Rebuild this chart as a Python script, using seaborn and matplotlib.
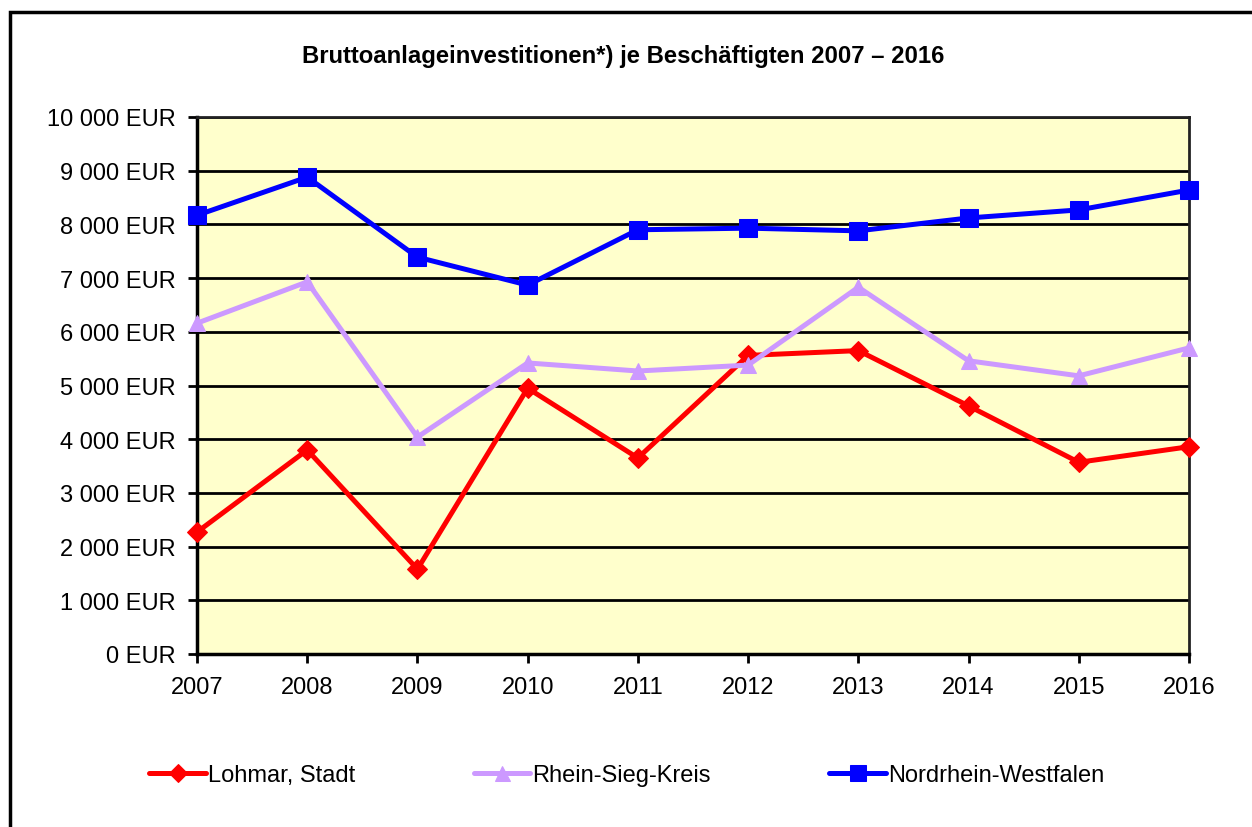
import matplotlib
matplotlib.use("Agg")
import matplotlib.pyplot as plt
import seaborn as sns
import pandas as pd
from matplotlib.patches import Rectangle
from matplotlib.ticker import FixedLocator, FuncFormatter

years = [2007, 2008, 2009, 2010, 2011, 2012, 2013, 2014, 2015, 2016]
lohmar = [2270, 3800, 1580, 4950, 3650, 5560, 5650, 4620, 3570, 3860]
rhein_sieg = [6160, 6930, 4040, 5420, 5270, 5380, 6830, 5460, 5180, 5700]
nrw = [8170, 8880, 7390, 6870, 7900, 7930, 7880, 8120, 8270, 8640]
series_names = ["Lohmar, Stadt", "Rhein-Sieg-Kreis", "Nordrhein-Westfalen"]
title = "Bruttoanlageinvestitionen*) je Beschäftigten 2007 – 2016"
y_ticks = [0, 1000, 2000, 3000, 4000, 5000, 6000, 7000, 8000, 9000, 10000]

sns.set_theme(style="white")
plt.rcParams["font.family"] = ["Liberation Sans", "DejaVu Sans"]
plt.rcParams["text.color"] = "black"

df = pd.DataFrame({
    "Jahr": years * 3,
    "Wert": lohmar + rhein_sieg + nrw,
    "Reihe": [series_names[0]] * 10 + [series_names[1]] * 10 + [series_names[2]] * 10,
})

fig = plt.figure(figsize=(12.52, 8.28), dpi=100)
ax = fig.add_axes([197 / 1252, 1 - 655 / 828, (1189 - 197) / 1252, (655 - 118) / 828])
ax.set_facecolor("#FFFFCC")

colors = ["#FF0000", "#CC99FF", "#0000FF"]
markers = ["D", "^", "s"]
msizes = [10, 12, 13]
for name, c, m, ms in zip(series_names, colors, markers, msizes):
    sub = df[df["Reihe"] == name]
    sns.lineplot(data=sub, x="Jahr", y="Wert", ax=ax, color=c, marker=m,
                 markersize=ms, markeredgecolor=c, linewidth=3.6, label=name,
                 clip_on=False, zorder=5)

ax.set_xlim(2007, 2016)
ax.set_ylim(0, 10000)
ax.yaxis.set_major_locator(FixedLocator(y_ticks))
ax.yaxis.set_major_formatter(FuncFormatter(lambda v, p: f"{int(v):,}".replace(",", " ") + " EUR"))
ax.set_xticks(years)
ax.set_xticklabels([str(y) for y in years])
ax.grid(axis="y", color="black", linewidth=2)
ax.set_axisbelow(True)
ax.set_xlabel("")
ax.set_ylabel("")
ax.tick_params(axis="both", which="major", direction="out", length=6.5, width=2,
               color="black", labelsize=17, labelcolor="black",
               left=True, bottom=True)
ax.tick_params(axis="y", pad=9)
ax.tick_params(axis="x", pad=9)
for s in ["left", "bottom"]:
    ax.spines[s].set_color("black")
    ax.spines[s].set_linewidth(2.5)
for s in ["top", "right"]:
    ax.spines[s].set_color("#222222")
    ax.spines[s].set_linewidth(2)

ax.get_legend().remove()
handles, labels = ax.get_legend_handles_labels()
leg = fig.legend(handles, labels, loc="center left", bbox_to_anchor=(128 / 1252, 1 - 776 / 828),
                 ncol=3, frameon=False, fontsize=17, handlelength=2.4, handletextpad=0.1,
                 columnspacing=5.0, markerscale=0.9)
for t in leg.get_texts():
    t.set_color("black")

fig.text(623 / 1252, 1 - 57 / 828, title, ha="center", va="center",
         fontsize=17.2, fontweight="bold", color="black")

fig.patches.append(Rectangle((10 / 1252, -0.5), 2.0, 0.5 + (1 - 13 / 828),
                             transform=fig.transFigure, fill=False,
                             edgecolor="black", linewidth=2.5, figure=fig))

fig.savefig("out.png", dpi=100, facecolor="white")
